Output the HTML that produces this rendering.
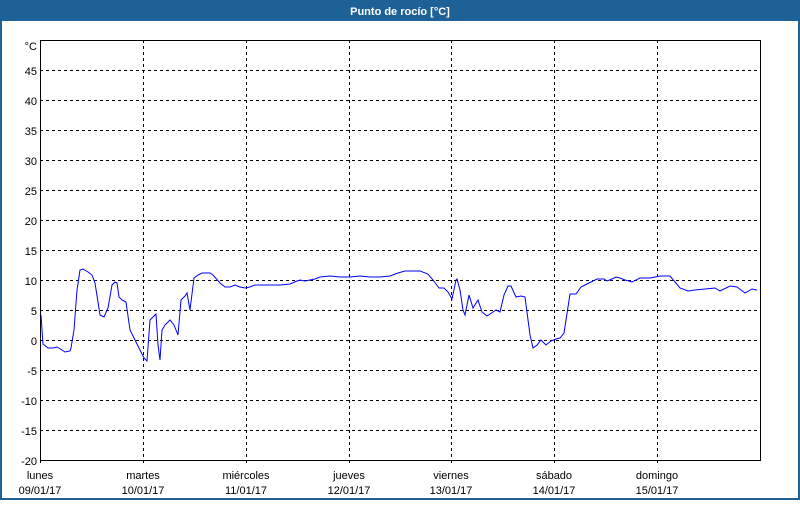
<!DOCTYPE html>
<html><head><meta charset="utf-8"><style>
body{margin:0;width:800px;height:500px;overflow:hidden;background:#fff;font-family:"Liberation Sans","DejaVu Sans",sans-serif}
</style></head><body>
<svg width="800" height="500" xmlns="http://www.w3.org/2000/svg" font-family="Liberation Sans, DejaVu Sans, sans-serif" font-size="11">
<rect x="0" y="0" width="800" height="500" fill="#1e6196"/>
<rect x="2" y="21" width="796" height="477" fill="#fff"/>
<text x="400" y="15" fill="#fff" font-weight="bold" text-anchor="middle">Punto de rocío [°C]</text>
<g stroke="#000" stroke-dasharray="3,3" stroke-width="1">
<line x1="40" x2="760" y1="70.5" y2="70.5"/><line x1="40" x2="760" y1="100.5" y2="100.5"/><line x1="40" x2="760" y1="130.5" y2="130.5"/><line x1="40" x2="760" y1="160.5" y2="160.5"/><line x1="40" x2="760" y1="190.5" y2="190.5"/><line x1="40" x2="760" y1="220.5" y2="220.5"/><line x1="40" x2="760" y1="250.5" y2="250.5"/><line x1="40" x2="760" y1="280.5" y2="280.5"/><line x1="40" x2="760" y1="310.5" y2="310.5"/><line x1="40" x2="760" y1="340.5" y2="340.5"/><line x1="40" x2="760" y1="370.5" y2="370.5"/><line x1="40" x2="760" y1="400.5" y2="400.5"/><line x1="40" x2="760" y1="430.5" y2="430.5"/>
<line x1="143.5" x2="143.5" y1="40" y2="466"/><line x1="246.5" x2="246.5" y1="40" y2="466"/><line x1="349.5" x2="349.5" y1="40" y2="466"/><line x1="451.5" x2="451.5" y1="40" y2="466"/><line x1="554.5" x2="554.5" y1="40" y2="466"/><line x1="657.5" x2="657.5" y1="40" y2="466"/>
<line x1="40.5" x2="40.5" y1="460" y2="466"/>
</g>
<rect x="40.5" y="40.5" width="720" height="420" fill="none" stroke="#000"/>
<g fill="#000" text-anchor="end">
<text x="37" y="50">°C</text><text x="37" y="75">45</text><text x="37" y="105">40</text><text x="37" y="135">35</text><text x="37" y="165">30</text><text x="37" y="195">25</text><text x="37" y="225">20</text><text x="37" y="255">15</text><text x="37" y="285">10</text><text x="37" y="315">5</text><text x="37" y="345">0</text><text x="37" y="375">-5</text><text x="37" y="405">-10</text><text x="37" y="435">-15</text><text x="37" y="465">-20</text>
</g>
<g fill="#000" text-anchor="middle">
<text x="40" y="479">lunes</text><text x="40" y="494">09/01/17</text>
<text x="143" y="479">martes</text><text x="143" y="494">10/01/17</text>
<text x="246" y="479">miércoles</text><text x="246" y="494">11/01/17</text>
<text x="349" y="479">jueves</text><text x="349" y="494">12/01/17</text>
<text x="451" y="479">viernes</text><text x="451" y="494">13/01/17</text>
<text x="554" y="479">sábado</text><text x="554" y="494">14/01/17</text>
<text x="657" y="479">domingo</text><text x="657" y="494">15/01/17</text>
</g>
<polyline fill="none" stroke="#0000ff" stroke-width="1" points="41,315 43,344 48,348 53,348 57,347 62,350 65,352 70,351 71,348 74,330 77,290 80,270 83,269 88,272 92,275 95,283 98,302 100,315 104,317 108,308 112,285 115,282 117,283 119,297 122,300 126,302 130,330 135,340 140,350 144,358 147,361 150,320 153,317 156,314 158,345 160,360 162,330 165,325 170,320 174,325 176,330 178,335 181,300 185,296 187,293 190,310 194,278 198,275 202,273 210,273 213,275 220,283 225,287 230,287 235,285 240,287 245,288 250,287 255,285 260,285 270,285 280,285 290,284 297,281 300,280 305,281 315,279 320,277 330,276 340,277 350,277 360,276 370,277 380,277 390,276 398,273 405,271 412,271 420,271 428,274 433,280 439,288 444,288 448,292 452,299 456,280 457,279 460,290 463,310 465,315 469,295 473,308 478,300 482,312 487,316 493,312 496,310 500,312 504,295 508,286 511,286 516,297 521,296 525,297 530,335 533,348 537,345 541,340 546,345 551,341 556,339 560,338 564,333 570,294 576,294 581,287 587,284 593,281 597,279 604,279 607,281 612,279 616,277 620,278 625,280 632,282 640,278 650,278 660,276 670,276 680,288 688,291 695,290 705,289 715,288 720,291 730,286 737,287 745,293 752,289 757,290"/>
</svg>
</body></html>
